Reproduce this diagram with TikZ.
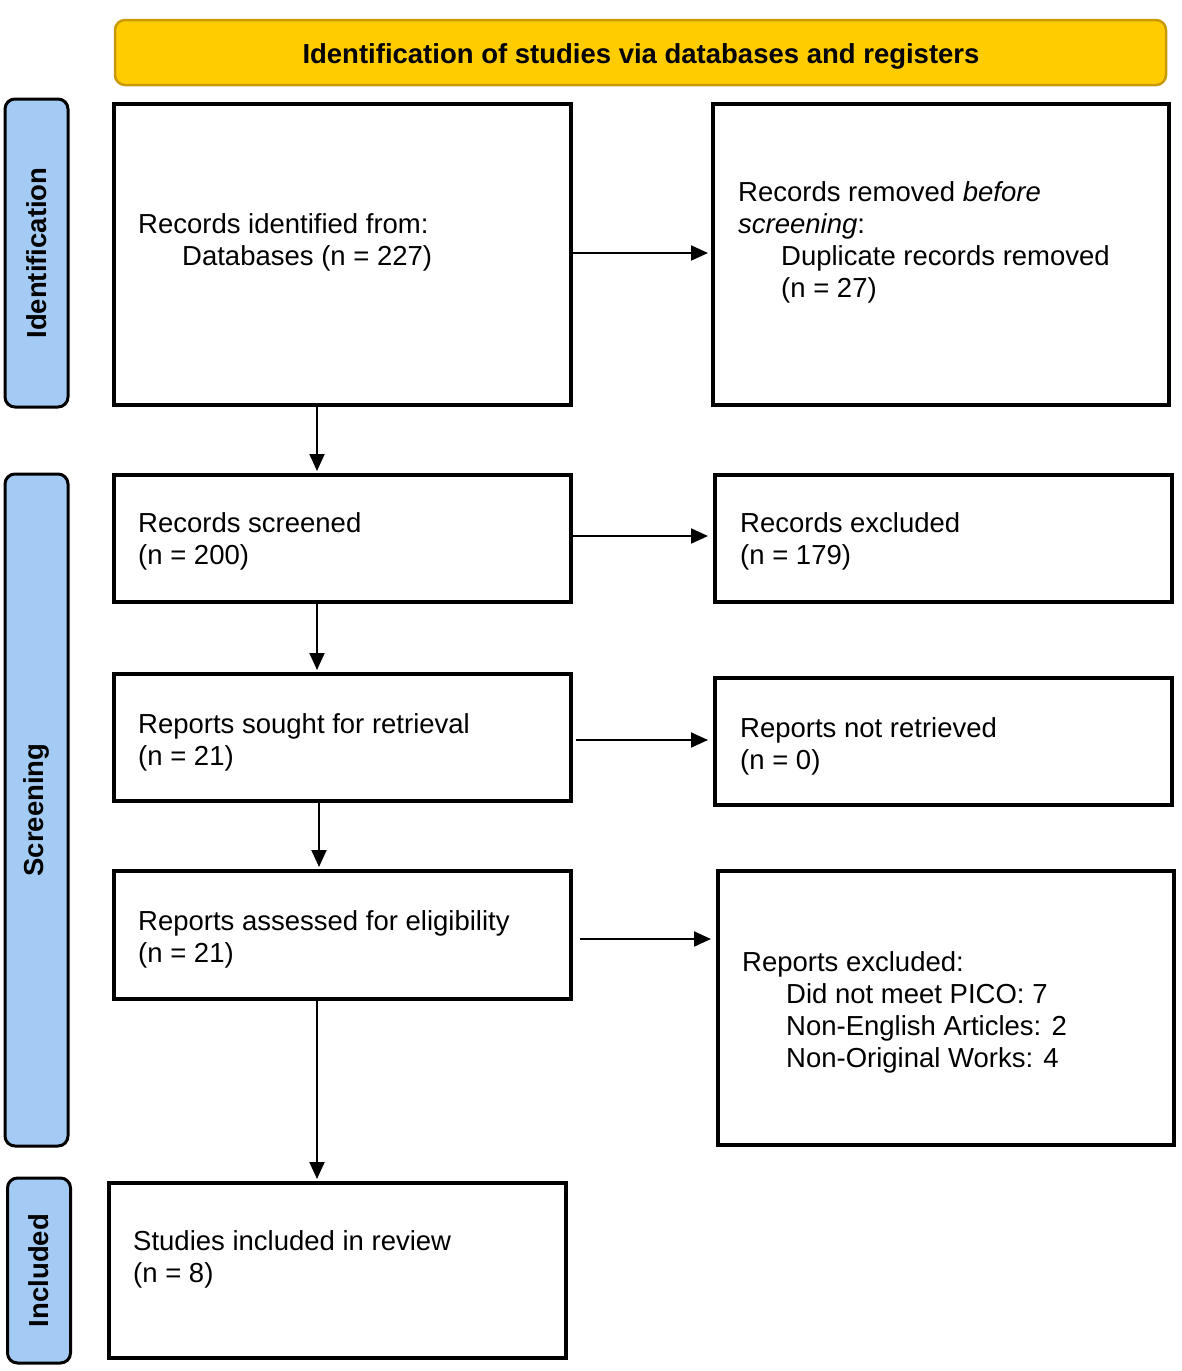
\documentclass[tikz,border=0pt]{standalone}
\usepackage{fontspec}
\setmainfont{Liberation Sans}
\usetikzlibrary{arrows.meta}
\definecolor{hdrfill}{HTML}{FFCC00}
\definecolor{hdrline}{HTML}{C99A06}
\definecolor{sidefill}{HTML}{A4CBF4}
\begin{document}
\begin{tikzpicture}[x=1pt,y=-1pt,
  every node/.style={font=\fontsize{27.5}{32}\selectfont},
  flowbox/.style={draw, line width=4pt, inner sep=0pt},
  sidebox/.style={draw, line width=3pt, fill=sidefill, rounded corners=10pt, inner sep=0pt, minimum width=63pt},
  sidetxt/.style={rotate=90, font=\fontsize{27.5}{32}\selectfont\bfseries, inner sep=0pt},
  txt/.style={anchor=base west, inner sep=0pt, align=left},
  arr/.style={line width=2pt, -{Triangle[length=17pt,width=15pt]}}
]
\useasboundingbox (0,0) rectangle (1181,1371);
% header
\node[draw=hdrline, line width=2.5pt, fill=hdrfill, rounded corners=10pt, minimum width=1051pt, minimum height=65pt, inner sep=0pt] (hdr) at (640.5,52.5) {};
\node[anchor=base, inner sep=0pt, font=\fontsize{27.5}{32}\selectfont\bfseries] (hdrt) at (641,63) {Identification of studies via databases and registers};
% side phases
\node[sidebox, minimum height=308pt] (sid) at (36.5,253) {};
\node[sidetxt] (sidt) at (sid.center) {Identification};
\node[sidebox, minimum height=672pt] (ssc) at (36.5,810) {};
\node[sidetxt] (ssct) at (ssc.center) {Screening};
\node[sidebox, minimum height=185pt] (sin) at (39,1270.5) {};
\node[sidetxt] (sint) at (sin.center) {Included};
% boxes
\node[flowbox, minimum width=457pt, minimum height=301pt] (b1) at (342.5,254.5) {};
\node[flowbox, minimum width=456pt, minimum height=301pt] (b2) at (941,254.5) {};
\node[flowbox, minimum width=457pt, minimum height=127pt] (b3) at (342.5,538.5) {};
\node[flowbox, minimum width=457pt, minimum height=127pt] (b4) at (943.5,538.5) {};
\node[flowbox, minimum width=457pt, minimum height=127pt] (b5) at (342.5,737.5) {};
\node[flowbox, minimum width=457pt, minimum height=127pt] (b6) at (943.5,741.5) {};
\node[flowbox, minimum width=457pt, minimum height=128pt] (b7) at (342.5,935) {};
\node[flowbox, minimum width=456pt, minimum height=274pt] (b8) at (946,1008) {};
\node[flowbox, minimum width=457pt, minimum height=175pt] (b9) at (337.5,1270.5) {};
% texts
\node[txt] (t1) at (138,233) {\begin{tabular}[t]{@{}l@{}}Records identified from:\\\hspace*{44pt}Databases (n = 227)\end{tabular}};
\node[txt] (t2) at (738,201) {\begin{tabular}[t]{@{}l@{}}Records removed \textit{before}\\\textit{screening}:\\\hspace*{43pt}Duplicate records removed\\\hspace*{43pt}(n = 27)\end{tabular}};
\node[txt] (t3) at (138,532) {\begin{tabular}[t]{@{}l@{}}Records screened\\(n = 200)\end{tabular}};
\node[txt] (t4) at (740,532) {\begin{tabular}[t]{@{}l@{}}Records excluded\\(n = 179)\end{tabular}};
\node[txt] (t5) at (138,733) {\begin{tabular}[t]{@{}l@{}}Reports sought for retrieval\\(n = 21)\end{tabular}};
\node[txt] (t6) at (740,737) {\begin{tabular}[t]{@{}l@{}}Reports not retrieved\\(n = 0)\end{tabular}};
\node[txt] (t7) at (138,930) {\begin{tabular}[t]{@{}l@{}}Reports assessed for eligibility\\(n = 21)\end{tabular}};
\node[txt] (t8) at (742,971) {\begin{tabular}[t]{@{}l@{}}Reports excluded:\\\hspace*{44pt}Did not meet PICO: 7\\\hspace*{44pt}Non-English Articles: 2\\\hspace*{44pt}Non-Original Works: 4\end{tabular}};
\node[txt] (t9) at (133,1250) {\begin{tabular}[t]{@{}l@{}}Studies included in review\\(n = 8)\end{tabular}};
% arrows right (yshift is in page direction: positive = up)
\draw[arr] ([yshift=1.5pt]b1.east) -- ([yshift=1.5pt,xshift=-3pt]b2.west);
\draw[arr] ([yshift=2.5pt]b3.east) -- ([yshift=2.5pt,xshift=-5pt]b4.west);
\draw[arr] ([yshift=-2.5pt,xshift=3pt]b5.east) -- ([yshift=1.5pt,xshift=-5pt]b6.west);
\draw[arr] ([yshift=-4pt,xshift=7pt]b7.east) -- ([yshift=69pt,xshift=-5pt]b8.west);
% arrows down
\draw[arr] ([xshift=-25.5pt]b1.south) -- ([xshift=-25.5pt,yshift=2pt]b3.north);
\draw[arr] ([xshift=-25.5pt]b3.south) -- ([xshift=-25.5pt,yshift=2pt]b5.north);
\draw[arr] ([xshift=-23.5pt]b5.south) -- ([xshift=-23.5pt,yshift=2pt]b7.north);
\draw[arr] ([xshift=-25.5pt]b7.south) -- ([xshift=-20.5pt,yshift=2pt]b9.north);
\end{tikzpicture}
\end{document}
